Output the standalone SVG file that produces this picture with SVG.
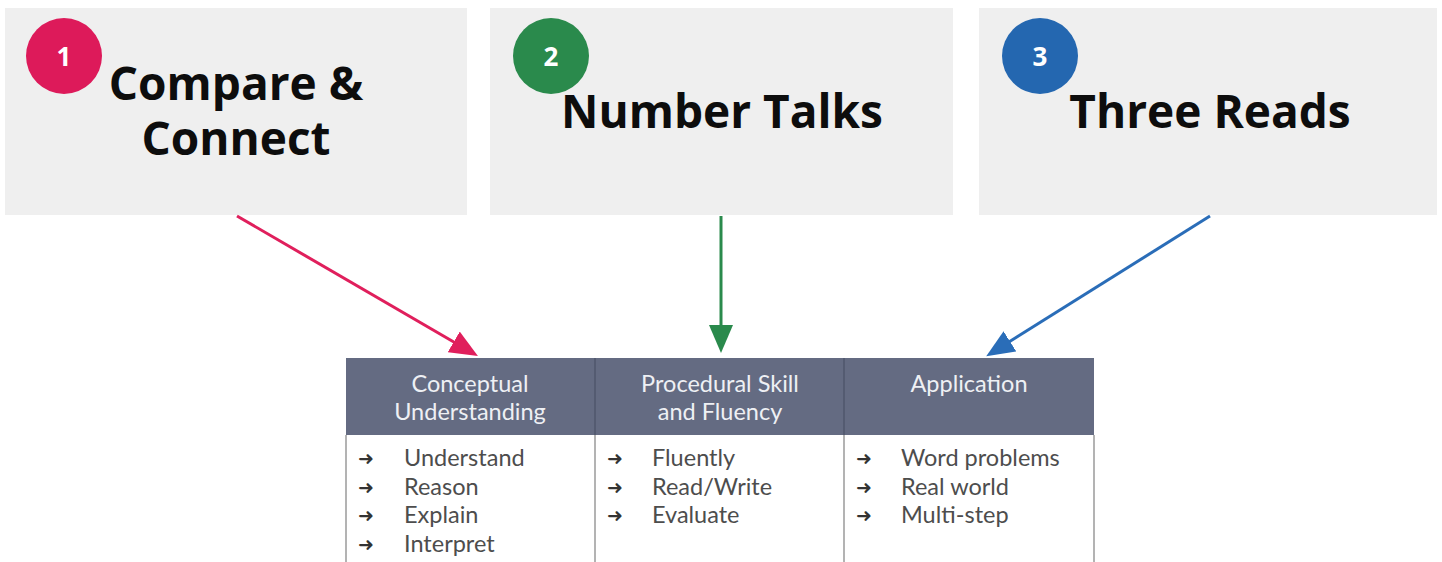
<svg xmlns="http://www.w3.org/2000/svg" width="1442" height="562" viewBox="0 0 1442 562">
  <style>
    .card { fill: #efefef; }
    .title { font-family: "Open Sans", "DejaVu Sans", sans-serif; font-weight: 700; font-size: 46px; fill: #0d0d0d; text-anchor: middle; }
    .num { font-family: "Open Sans", "DejaVu Sans", sans-serif; font-weight: 700; font-size: 26px; fill: #fff; text-anchor: middle; }
    .hdr { fill: #646b82; }
    .hdr-text { font-family: Lato, "Liberation Sans", sans-serif; font-size: 23.5px; fill: #eef0f4; text-anchor: middle; }
    .item { font-family: Lato, "Liberation Sans", sans-serif; font-size: 23.5px; fill: #4d4d4d; }
    .bullet { font-family: "DejaVu Sans", sans-serif; font-size: 19px; fill: #333; font-weight: 700; }
    .rule { stroke: #9a9a9a; stroke-width: 1.5; fill: none; }
    .link { stroke-width: 3; fill: none; }
  </style>
  <defs>
    <marker id="head-red" viewBox="0 0 28 24" markerWidth="28" markerHeight="24" markerUnits="userSpaceOnUse" refX="20" refY="12" orient="auto">
      <path d="M0,0 L28,12 L0,24 z" fill="#e01f5c"/>
    </marker>
    <marker id="head-green" viewBox="0 0 28 24" markerWidth="28" markerHeight="24" markerUnits="userSpaceOnUse" refX="20" refY="12" orient="auto">
      <path d="M0,0 L28,12 L0,24 z" fill="#2a8a4c"/>
    </marker>
    <marker id="head-blue" viewBox="0 0 28 24" markerWidth="28" markerHeight="24" markerUnits="userSpaceOnUse" refX="20" refY="12" orient="auto">
      <path d="M0,0 L28,12 L0,24 z" fill="#2a6db8"/>
    </marker>
  </defs>

  <rect width="1442" height="562" fill="#ffffff"/>

  <!-- routine cards -->
  <g id="compare-connect">
    <rect class="card" x="5" y="8" width="462" height="207"/>
    <circle cx="64" cy="56" r="38" fill="#dd1a5a"/>
    <text class="num" x="64" y="66">1</text>
    <text class="title" x="236" y="100">Compare &amp;</text>
    <text class="title" x="236" y="155">Connect</text>
  </g>
  <g id="number-talks">
    <rect class="card" x="490" y="8" width="463" height="207"/>
    <circle cx="551" cy="56" r="38" fill="#2a8a4c"/>
    <text class="num" x="551" y="66">2</text>
    <text class="title" x="722" y="128">Number Talks</text>
  </g>
  <g id="three-reads">
    <rect class="card" x="979" y="8" width="458" height="207"/>
    <circle cx="1040" cy="56" r="38" fill="#2467b0"/>
    <text class="num" x="1040" y="66">3</text>
    <text class="title" x="1210" y="128">Three Reads</text>
  </g>

  <!-- connectors -->
  <g id="connectors">
    <line class="link" x1="237" y1="216" x2="471" y2="352" stroke="#e01f5c" marker-end="url(#head-red)"/>
    <line class="link" x1="721" y1="216" x2="721" y2="345" stroke="#2a8a4c" marker-end="url(#head-green)"/>
    <line class="link" x1="1210" y1="216" x2="993" y2="352" stroke="#2a6db8" marker-end="url(#head-blue)"/>
  </g>

  <!-- rigor table -->
  <g id="rigor-table">
    <rect class="hdr" x="346" y="358" width="748" height="77"/>
    <line x1="595" y1="358" x2="595" y2="435" stroke="#4f566b" stroke-width="1.5"/>
    <line x1="844" y1="358" x2="844" y2="435" stroke="#4f566b" stroke-width="1.5"/>
    <path class="rule" d="M346,435 V562 M595,435 V562 M844,435 V562 M1094,435 V562"/>

    <g id="conceptual">
      <text class="hdr-text" x="470" y="392">Conceptual</text>
      <text class="hdr-text" x="470" y="420">Understanding</text>
      <text class="bullet" x="358" y="465">➜</text>
      <text class="item" x="404" y="466">Understand</text>
      <text class="bullet" x="358" y="494">➜</text>
      <text class="item" x="404" y="495">Reason</text>
      <text class="bullet" x="358" y="522">➜</text>
      <text class="item" x="404" y="523">Explain</text>
      <text class="bullet" x="358" y="551">➜</text>
      <text class="item" x="404" y="552">Interpret</text>
    </g>
    <g id="procedural">
      <text class="hdr-text" x="720" y="392">Procedural Skill</text>
      <text class="hdr-text" x="720" y="420">and Fluency</text>
      <text class="bullet" x="607" y="465">➜</text>
      <text class="item" x="652" y="466">Fluently</text>
      <text class="bullet" x="607" y="494">➜</text>
      <text class="item" x="652" y="495">Read/Write</text>
      <text class="bullet" x="607" y="522">➜</text>
      <text class="item" x="652" y="523">Evaluate</text>
    </g>
    <g id="application">
      <text class="hdr-text" x="969" y="392">Application</text>
      <text class="bullet" x="856" y="465">➜</text>
      <text class="item" x="901" y="466">Word problems</text>
      <text class="bullet" x="856" y="494">➜</text>
      <text class="item" x="901" y="495">Real world</text>
      <text class="bullet" x="856" y="522">➜</text>
      <text class="item" x="901" y="523">Multi-step</text>
    </g>
  </g>
</svg>
